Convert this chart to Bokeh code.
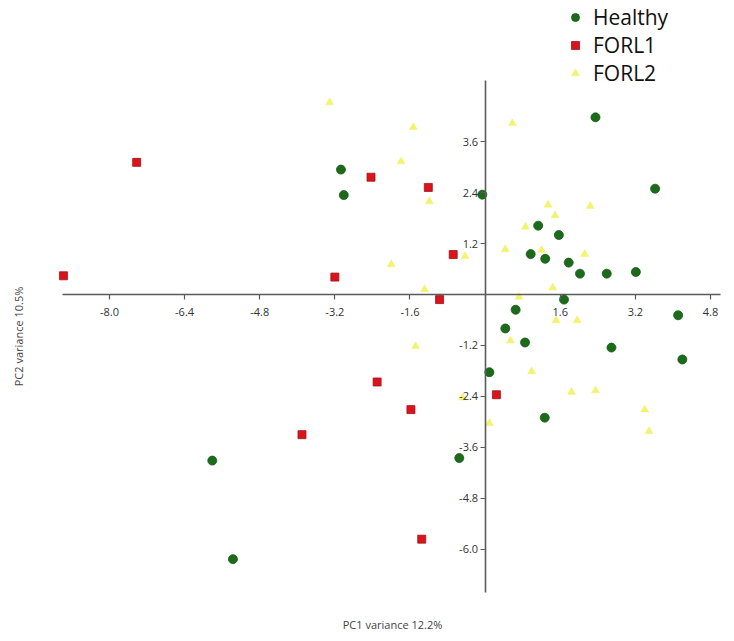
import math
from bokeh.plotting import figure
from bokeh.models import (LinearAxis, FixedTicker, PrintfTickFormatter, Label,
                          Legend, LegendItem, Range1d)
from bokeh.embed import file_html
from bokeh.resources import INLINE

# ---- data ----
healthy_x = [2.35, 3.62, -0.06, 1.13, 1.57, 0.97, 1.28, 1.78, 2.02, 2.59, 3.21,
             1.68, 4.11, 2.69, 4.20, 1.27, 0.65, 0.43, 0.85, 0.09, -0.55,
             -3.07, -3.01, -5.81, -5.37]
healthy_y = [4.17, 2.49, 2.35, 1.62, 1.40, 0.95, 0.84, 0.75, 0.49, 0.49, 0.53,
             -0.12, -0.49, -1.25, -1.53, -2.90, -0.36, -0.80, -1.13, -1.83, -3.85,
             2.94, 2.34, -3.91, -6.23]

forl1_x = [-8.98, -7.42, -3.20, -2.43, -1.21, -0.68, -0.97, 0.24, -2.30, -1.58,
           -3.90, -1.35]
forl1_y = [0.44, 3.11, 0.41, 2.76, 2.52, 0.94, -0.12, -2.36, -2.06, -2.71,
           -3.30, -5.76]

forl2_x = [-3.31, -1.53, -1.79, -1.19, 0.58, 1.34, 1.49, 0.86, 2.24, 0.43, 1.20,
           2.12, -0.43, -2.00, -1.29, 1.44, 0.72, 1.51, 1.96, -1.48, 0.54, 0.99,
           1.84, 2.35, 3.40, 3.49, 0.09, -0.48]
forl2_y = [4.52, 3.94, 3.13, 2.19, 4.03, 2.11, 1.86, 1.59, 2.08, 1.06, 1.04,
           0.95, 0.90, 0.71, 0.12, 0.16, -0.06, -0.61, -0.61, -1.22, -1.09, -1.81,
           -2.30, -2.26, -2.71, -3.22, -3.03, -2.43]

group_labels = ["Healthy", "FORL1", "FORL2"]
x_ticks = [-8.0, -6.4, -4.8, -3.2, -1.6, 1.6, 3.2, 4.8]
y_ticks = [3.6, 2.4, 1.2, -1.2, -2.4, -3.6, -4.8, -6.0]
x_title = "PC1 variance 12.2%"
y_title = "PC2 variance 10.5%"

W, H = 726, 633
p = figure(width=W, height=H, output_backend="svg", toolbar_location=None,
           x_range=Range1d(-10.32, 5.14), y_range=Range1d(-7.98, 6.92),
           x_axis_location=None, y_axis_location=None,
           min_border=0, min_border_left=0, min_border_right=0,
           min_border_top=0, min_border_bottom=0)
p.outline_line_color = None
p.xgrid.visible = False
p.ygrid.visible = False
p.background_fill_color = "white"

axis_color = "#5a5a5a"
tick_font = "Open Sans"

xa = LinearAxis(fixed_location=0, bounds=(-9.0, 5.02),
                ticker=FixedTicker(ticks=x_ticks),
                formatter=PrintfTickFormatter(format="%.1f"))
ya = LinearAxis(fixed_location=0, bounds=(-7.01, 5.04),
                ticker=FixedTicker(ticks=y_ticks),
                formatter=PrintfTickFormatter(format="%.1f"))
for ax in (xa, ya):
    ax.axis_line_color = axis_color
    ax.axis_line_width = 1.6
    ax.major_tick_line_color = axis_color
    ax.major_tick_line_width = 1.2
    ax.major_tick_in = 0
    ax.major_tick_out = 5
    ax.minor_tick_line_color = None
    ax.major_label_text_font = tick_font
    ax.major_label_text_font_size = "11px"
    ax.major_label_text_color = "#333333"
xa.major_label_standoff = 9
ya.major_label_standoff = 2
p.add_layout(xa, "below")
p.add_layout(ya, "left")

r_h = p.scatter(healthy_x, healthy_y, marker="circle", size=9,
                fill_color="#1b6b1b", line_color="#155a15", line_width=0.8)
r_1 = p.scatter(forl1_x, forl1_y, marker="square", size=8,
                fill_color="#d8141c", line_color="#a81018", line_width=0.8)
r_2 = p.scatter(forl2_x, forl2_y, marker="triangle", size=8,
                fill_color="#f4f46a", line_color="#eeee80", line_width=0.5)

legend = Legend(items=[LegendItem(label=group_labels[0], renderers=[r_h]),
                       LegendItem(label=group_labels[1], renderers=[r_1]),
                       LegendItem(label=group_labels[2], renderers=[r_2])],
                location=(565, 546), orientation="vertical",
                padding=0, margin=0, spacing=0,
                glyph_width=20, glyph_height=20, label_height=20,
                label_standoff=8, border_line_color=None,
                background_fill_alpha=0,
                label_text_font="Open Sans", label_text_font_size="21px",
                label_text_color="#111111", label_text_baseline="middle")
p.add_layout(legend)

p.add_layout(Label(x=392, y=9, x_units="screen", y_units="screen", text=x_title,
                   text_align="center", text_baseline="middle",
                   text_font="Open Sans", text_font_size="11px",
                   text_color="#444444"))
p.add_layout(Label(x=18, y=297, x_units="screen", y_units="screen", text=y_title,
                   angle=math.pi / 2, text_align="center", text_baseline="middle",
                   text_font="Open Sans", text_font_size="11px",
                   text_color="#444444"))

open("out.html", "w").write(file_html(p, INLINE))
